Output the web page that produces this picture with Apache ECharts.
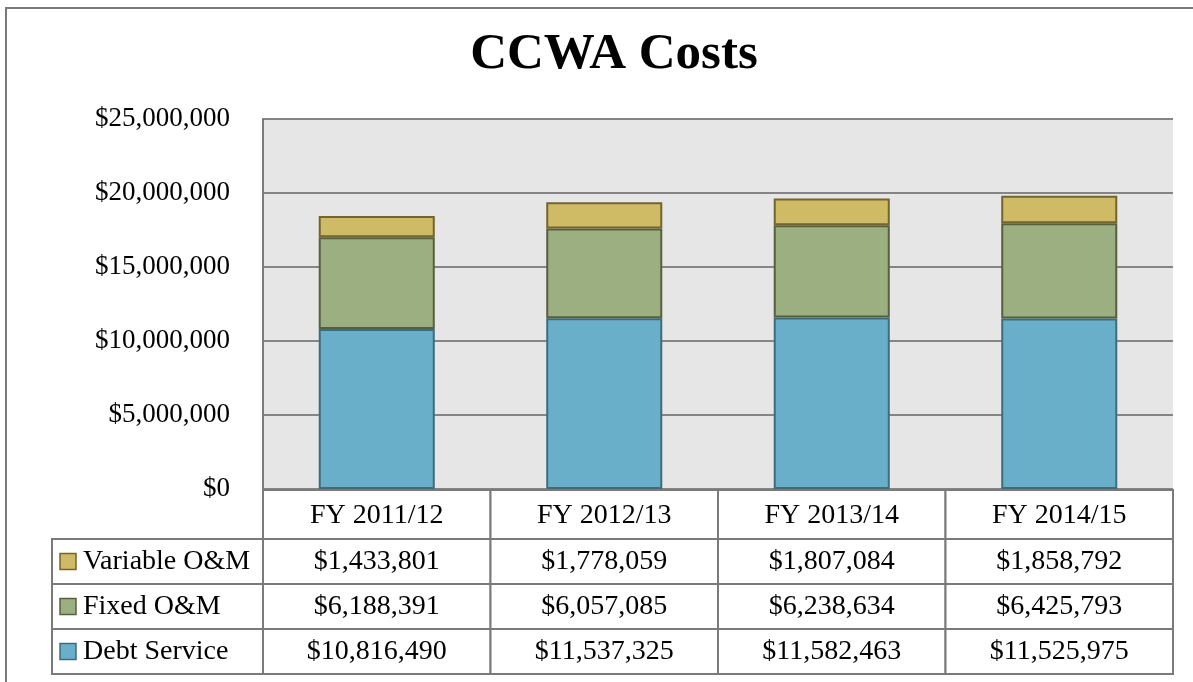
<!DOCTYPE html>
<html>
<head>
<meta charset="utf-8">
<title>CCWA Costs</title>
<script src="https://cdn.jsdelivr.net/npm/echarts@6/dist/echarts.min.js"></script>
<style>
  html, body { margin: 0; padding: 0; background: #fff; }
  #chart { width: 1193px; height: 682px; }
</style>
</head>
<body>
<div id="chart"></div>
<script>
// data
const years = ['FY 2011/12', 'FY 2012/13', 'FY 2013/14', 'FY 2014/15']
const debtService = [10816490, 11537325, 11582463, 11525975]
const fixedOM = [6188391, 6057085, 6238634, 6425793]
const variableOM = [1433801, 1778059, 1807084, 1858792]
const seriesNames = ['Debt Service', 'Fixed O&M', 'Variable O&M']
const yMax = 25000000
const yStep = 5000000

const FONT = 'Liberation Serif'
const colors = ['#6aafca', '#9caf80', '#cfba66']
const borders = ['#3e6c7c', '#56603f', '#74652c']

// plot box in pixels
const plot = { left: 263, right: 1173, top: 119, bottom: 489 }
const rowLines = [490, 539, 584, 629, 674]
const legendLeft = 52

const money = v => '$' + v.toLocaleString('en-US')

const chart = echarts.init(document.getElementById('chart'))

function buildTable() {
  const els = []
  const colW = (plot.right - plot.left) / years.length
  const cell = (x, y, w, h) => ({
    type: 'rect',
    shape: { x, y, width: w, height: h },
    style: { fill: '#fff', stroke: '#7a7a7a', lineWidth: 2 },
    z: 10
  })
  const txt = (t, x, y, align) => ({
    type: 'text',
    style: {
      text: t, x, y,
      font: '28px "' + FONT + '"',
      fill: '#000',
      textAlign: align || 'center',
      textVerticalAlign: 'middle'
    },
    z: 12
  })
  // header row
  years.forEach((y, i) => {
    const x = plot.left + i * colW
    els.push(cell(x, rowLines[0], colW, rowLines[1] - rowLines[0]))
    els.push(txt(y, x + colW / 2, (rowLines[0] + rowLines[1]) / 2 + 1))
  })
  // data rows, top row = top of stack
  const rows = [
    { name: seriesNames[2], data: variableOM, k: 2 },
    { name: seriesNames[1], data: fixedOM, k: 1 },
    { name: seriesNames[0], data: debtService, k: 0 }
  ]
  rows.forEach((r, ri) => {
    const y0 = rowLines[ri + 1]
    const h = rowLines[ri + 2] - y0
    const cy = y0 + h / 2
    els.push(cell(legendLeft, y0, plot.left - legendLeft, h))
    els.push({
      type: 'rect',
      shape: { x: 60, y: cy - 8, width: 16, height: 16 },
      style: { fill: colors[r.k], stroke: borders[r.k], lineWidth: 1.5 },
      z: 12
    })
    els.push(txt(r.name, 83, cy, 'left'))
    r.data.forEach((v, i) => {
      const x = plot.left + i * colW
      els.push(cell(x, y0, colW, h))
      els.push(txt(money(v), x + colW / 2, cy))
    })
  })
  // outer frame
  els.push({
    type: 'rect',
    shape: { x: 6, y: 8, width: 1220, height: 700 },
    style: { fill: 'none', stroke: '#7a7a7a', lineWidth: 2 },
    z: 20
  })
  return els
}

const barSeries = [debtService, fixedOM, variableOM].map((d, k) => ({
  name: seriesNames[k],
  type: 'bar',
  stack: 'cost',
  barWidth: '51%',
  data: d,
  itemStyle: { color: colors[k], borderColor: borders[k], borderWidth: 2 },
  emphasis: { disabled: true }
}))

chart.setOption({
  animation: false,
  title: {
    text: 'CCWA Costs',
    left: 609,
    top: 24,
    textAlign: 'center',
    textStyle: { fontFamily: FONT, fontSize: 51, fontWeight: 'bold', color: '#000' }
  },
  grid: {
    left: plot.left,
    top: plot.top,
    width: plot.right - plot.left,
    height: plot.bottom - plot.top,
    show: true,
    backgroundColor: '#e6e6e6',
    borderWidth: 0
  },
  xAxis: {
    type: 'category',
    data: years,
    axisLabel: { show: false },
    axisTick: { show: false },
    axisLine: { show: false }
  },
  yAxis: {
    type: 'value',
    min: 0,
    max: yMax,
    interval: yStep,
    axisLine: { show: true, lineStyle: { color: '#7a7a7a', width: 2 } },
    axisTick: { show: false },
    splitLine: { lineStyle: { color: '#858585', width: 2 } },
    axisLabel: {
      margin: 33,
      color: '#000',
      fontFamily: FONT,
      fontSize: 27,
      formatter: money
    }
  },
  series: barSeries,
  graphic: buildTable()
})
</script>
</body>
</html>
